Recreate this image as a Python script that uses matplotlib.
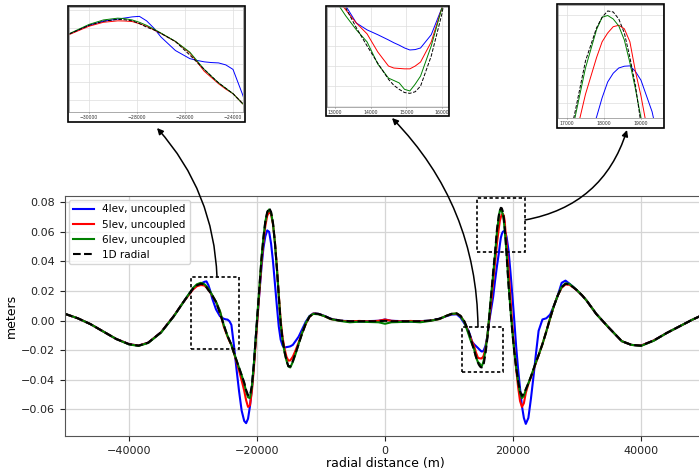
import matplotlib
matplotlib.use('Agg')
import matplotlib.pyplot as plt
from matplotlib.patches import Rectangle, FancyArrowPatch
from matplotlib.ticker import MultipleLocator

# figure size in pixels (dpi 100)
W, H = 699, 471

# radial distance (m), shared by all series
X = [-50000, -48000, -46000, -44000, -42000, -40000, -38500, -37000, -35000, -33000,
     -31500, -30800, -30000, -29400, -28800, -28500, -28200, -27900, -27600, -27300,
     -27000, -26400, -25800, -25500, -25200, -24900, -24600, -24300, -24000, -23600,
     -23200, -22800, -22400, -22000, -21700, -21400, -21100, -20800, -20500, -20200,
     -19900, -19600, -19300, -19000, -18700, -18400, -18100, -17800, -17500, -17200,
     -16900, -16600, -16300, -16000, -15700, -15400, -15100, -14800, -14400, -14000,
     -13500, -13000, -12400, -11800, -11200, -10400, -9500, -8500, -7000, -5500,
     -4000, -2500, -1000, 0, 1000, 2500, 4000, 5500, 7000, 8500,
     9500, 10400, 11200, 11800, 12400, 13000, 13300, 13600, 13900, 14200,
     14500, 14650, 14800, 14950, 15100, 15250, 15400, 15700, 16000, 16300,
     16600, 16900, 17200, 17500, 17800, 17950, 18100, 18250, 18400, 18550,
     18700, 18850, 19000, 19300, 19600, 19900, 20200, 20500, 20800, 21100,
     21400, 21700, 22000, 22400, 22800, 23200, 23600, 24000, 24600, 25200,
     25800, 26400, 27000, 27600, 28200, 28800, 29400, 30000, 30800, 31500,
     33000, 35000, 37000, 38500, 40000, 42000, 44000, 46000, 48000, 50000]

# 4lev, uncoupled
LEV4 = [0.0045, 0.0015, -0.0025, -0.0075, -0.0125, -0.0160, -0.0170, -0.0150, -0.0080, 0.0030,
        0.0125, 0.0168, 0.0215, 0.0238, 0.0250, 0.0256, 0.0262, 0.0265, 0.0240, 0.0200,
        0.0150, 0.0075, 0.0030, 0.0020, 0.0012, 0.0008, 0.0006, -0.0005, -0.0030, -0.0170,
        -0.0330, -0.0480, -0.0610, -0.0680, -0.0695, -0.0665, -0.0580, -0.0460, -0.0310, -0.0120,
        0.0040, 0.0200, 0.0360, 0.0490, 0.0570, 0.0610, 0.0600, 0.0520, 0.0400, 0.0250,
        0.0100, -0.0040, -0.0130, -0.0170, -0.0185, -0.0180, -0.0178, -0.0175, -0.0165, -0.0140,
        -0.0110, -0.0065, -0.0010, 0.0030, 0.0048, 0.0045, 0.0032, 0.0012, -0.0002, -0.0004,
        -0.0008, -0.0004, -0.0002, 0.0007, -0.0002, -0.0004, -0.0008, -0.0004, -0.0002, 0.0012,
        0.0028, 0.0040, 0.0042, 0.0020, -0.0020, -0.0065, -0.0100, -0.0143, -0.0160, -0.0172,
        -0.0185, -0.0192, -0.0198, -0.0205, -0.0210, -0.0209, -0.0205, -0.0172, -0.0105, 0.0000,
        0.0080, 0.0160, 0.0270, 0.0370, 0.0460, 0.0515, 0.0560, 0.0585, 0.0600, 0.0605,
        0.0606, 0.0590, 0.0565, 0.0475, 0.0330, 0.0170, 0.0000, -0.0180, -0.0330, -0.0460,
        -0.0580, -0.0660, -0.0700, -0.0660, -0.0530, -0.0380, -0.0220, -0.0070, 0.0007, 0.0015,
        0.0040, 0.0100, 0.0170, 0.0255, 0.0270, 0.0250, 0.0228, 0.0203, 0.0170, 0.0135,
        0.0045, -0.0050, -0.0140, -0.0165, -0.0170, -0.0135, -0.0085, -0.0040, 0.0005, 0.0045]

# 5lev, uncoupled
LEV5 = [0.0045, 0.0015, -0.0025, -0.0075, -0.0125, -0.0160, -0.0170, -0.0150, -0.0080, 0.0030,
        0.0125, 0.0165, 0.0210, 0.0232, 0.0240, 0.0239, 0.0236, 0.0224, 0.0210, 0.0190,
        0.0170, 0.0125, 0.0062, 0.0012, -0.0040, -0.0075, -0.0110, -0.0140, -0.0165, -0.0220,
        -0.0280, -0.0340, -0.0405, -0.0475, -0.0540, -0.0585, -0.0575, -0.0480, -0.0330, -0.0150,
        0.0040, 0.0220, 0.0390, 0.0530, 0.0640, 0.0710, 0.0735, 0.0720, 0.0650, 0.0530,
        0.0365, 0.0175, 0.0000, -0.0115, -0.0190, -0.0245, -0.0272, -0.0270, -0.0245, -0.0205,
        -0.0150, -0.0090, -0.0025, 0.0025, 0.0047, 0.0044, 0.0030, 0.0010, -0.0002, -0.0006,
        -0.0003, -0.0006, -0.0002, 0.0006, -0.0002, -0.0006, -0.0003, -0.0006, -0.0002, 0.0010,
        0.0030, 0.0044, 0.0047, 0.0030, -0.0008, -0.0075, -0.0110, -0.0143, -0.0170, -0.0215,
        -0.0250, -0.0255, -0.0256, -0.0257, -0.0257, -0.0250, -0.0240, -0.0190, -0.0105, 0.0010,
        0.0130, 0.0260, 0.0390, 0.0525, 0.0630, 0.0675, 0.0700, 0.0718, 0.0722, 0.0712,
        0.0675, 0.0590, 0.0520, 0.0350, 0.0150, -0.0040, -0.0200, -0.0330, -0.0450, -0.0545,
        -0.0585, -0.0560, -0.0490, -0.0430, -0.0385, -0.0335, -0.0285, -0.0235, -0.0160, -0.0075,
        0.0015, 0.0100, 0.0170, 0.0222, 0.0244, 0.0242, 0.0225, 0.0203, 0.0170, 0.0135,
        0.0045, -0.0050, -0.0140, -0.0165, -0.0170, -0.0135, -0.0085, -0.0040, 0.0005, 0.0045]

# 6lev, uncoupled
LEV6 = [0.0045, 0.0015, -0.0025, -0.0075, -0.0125, -0.0162, -0.0172, -0.0152, -0.0082, 0.0028,
        0.0125, 0.0170, 0.0220, 0.0245, 0.0255, 0.0252, 0.0245, 0.0232, 0.0215, 0.0195,
        0.0172, 0.0126, 0.0066, 0.0018, -0.0030, -0.0068, -0.0105, -0.0135, -0.0165, -0.0220,
        -0.0270, -0.0320, -0.0370, -0.0425, -0.0480, -0.0520, -0.0525, -0.0450, -0.0300, -0.0120,
        0.0060, 0.0240, 0.0420, 0.0560, 0.0670, 0.0730, 0.0752, 0.0730, 0.0655, 0.0525,
        0.0355, 0.0165, -0.0020, -0.0135, -0.0215, -0.0270, -0.0310, -0.0318, -0.0280, -0.0230,
        -0.0160, -0.0090, -0.0020, 0.0028, 0.0045, 0.0042, 0.0030, 0.0010, -0.0003, -0.0012,
        -0.0008, -0.0010, -0.0012, -0.0022, -0.0012, -0.0010, -0.0008, -0.0012, -0.0003, 0.0010,
        0.0030, 0.0045, 0.0048, 0.0030, -0.0010, -0.0085, -0.0125, -0.0160, -0.0190, -0.0245,
        -0.0280, -0.0286, -0.0292, -0.0308, -0.0312, -0.0295, -0.0275, -0.0200, -0.0105, 0.0040,
        0.0180, 0.0310, 0.0450, 0.0600, 0.0710, 0.0745, 0.0750, 0.0740, 0.0720, 0.0680,
        0.0615, 0.0540, 0.0457, 0.0250, 0.0080, -0.0075, -0.0210, -0.0320, -0.0415, -0.0490,
        -0.0525, -0.0510, -0.0470, -0.0425, -0.0380, -0.0330, -0.0280, -0.0235, -0.0160, -0.0075,
        0.0015, 0.0100, 0.0170, 0.0227, 0.0252, 0.0248, 0.0228, 0.0205, 0.0170, 0.0135,
        0.0045, -0.0050, -0.0140, -0.0165, -0.0172, -0.0137, -0.0085, -0.0040, 0.0005, 0.0045]

# 1D radial reference
RADIAL = [0.0045, 0.0015, -0.0025, -0.0075, -0.0125, -0.0160, -0.0170, -0.0150, -0.0080, 0.0030,
          0.0125, 0.0168, 0.0215, 0.0238, 0.0248, 0.0246, 0.0240, 0.0225, 0.0205, 0.0190,
          0.0170, 0.0125, 0.0050, 0.0010, -0.0030, -0.0068, -0.0105, -0.0135, -0.0165, -0.0220,
          -0.0270, -0.0320, -0.0370, -0.0420, -0.0470, -0.0505, -0.0510, -0.0440, -0.0300, -0.0120,
          0.0060, 0.0240, 0.0420, 0.0560, 0.0670, 0.0735, 0.0762, 0.0735, 0.0660, 0.0530,
          0.0360, 0.0170, -0.0020, -0.0130, -0.0210, -0.0270, -0.0310, -0.0312, -0.0275, -0.0225,
          -0.0160, -0.0095, -0.0025, 0.0025, 0.0048, 0.0045, 0.0032, 0.0012, 0.0000, -0.0005,
          -0.0005, -0.0005, -0.0005, -0.0002, -0.0005, -0.0005, -0.0005, -0.0005, 0.0000, 0.0012,
          0.0030, 0.0045, 0.0048, 0.0032, -0.0005, -0.0065, -0.0105, -0.0155, -0.0200, -0.0243,
          -0.0283, -0.0298, -0.0308, -0.0316, -0.0318, -0.0314, -0.0300, -0.0225, -0.0120, 0.0030,
          0.0180, 0.0330, 0.0465, 0.0620, 0.0715, 0.0745, 0.0763, 0.0760, 0.0740, 0.0700,
          0.0630, 0.0550, 0.0440, 0.0240, 0.0070, -0.0080, -0.0210, -0.0320, -0.0410, -0.0480,
          -0.0510, -0.0495, -0.0465, -0.0425, -0.0380, -0.0330, -0.0280, -0.0235, -0.0160, -0.0075,
          0.0015, 0.0100, 0.0170, 0.0225, 0.0248, 0.0245, 0.0225, 0.0205, 0.0170, 0.0135,
          0.0045, -0.0050, -0.0140, -0.0165, -0.0170, -0.0135, -0.0085, -0.0040, 0.0005, 0.0045]

SERIES = [('4lev, uncoupled', LEV4, 'b', '-'),
          ('5lev, uncoupled', LEV5, 'r', '-'),
          ('6lev, uncoupled', LEV6, 'g', '-'),
          ('1D radial', RADIAL, 'k', '--')]

# zoom windows: (xmin, xmax, ymin, ymax, ytick step)
ZOOM1 = (-30833, -23583, -0.0267, 0.0317, 0.01)
ZOOM2 = (12775, 16170, -0.0352, -0.0103, 0.005)
ZOOM3 = (16757, 19595, 0.0457, 0.0780, 0.005)

# dashed boxes drawn on the main plot: (x0, x1, y0, y1)
BOX1 = (-30265, -22777, -0.0193, 0.0295)
BOX2 = (11966, 18456, -0.0349, -0.0044)
BOX3 = (14306, 21950, 0.0464, 0.0829)


def px_box(l, t, r, b):
    """pixel box (image coords, y down) -> figure fraction rect"""
    return [l / W, 1 - b / H, (r - l) / W, (b - t) / H]


def px_pt(x, y):
    return (x / W, 1 - y / H)


def draw_inset(fig, inner, outer, zoom, xstep):
    ins = fig.add_axes(px_box(*inner))
    for label, ys, c, ls in SERIES:
        ins.plot(X, ys, color=c, linestyle=ls, linewidth=0.7)
    ins.set_xlim(zoom[0], zoom[1])
    ins.set_ylim(zoom[2], zoom[3])
    ins.xaxis.set_major_locator(MultipleLocator(xstep))
    ins.yaxis.set_major_locator(MultipleLocator(zoom[4]))
    ins.grid(True, color='#dddddd', linewidth=0.5)
    ins.tick_params(axis='x', labelsize=3.3, length=1, width=0.4, pad=1, colors='#333333')
    ins.tick_params(axis='y', labelleft=False, length=0)
    for s in ins.spines.values():
        s.set_color('#888888')
        s.set_linewidth(0.5)
    l, t, r, b = outer
    fig.add_artist(Rectangle(px_pt(l, b), (r - l) / W, (b - t) / H,
                             transform=fig.transFigure, fill=False,
                             edgecolor='black', linewidth=1.2))
    return ins


def main():
    assert all(len(s[1]) == len(X) for s in SERIES)
    fig = plt.figure(figsize=(W / 100, H / 100), dpi=100)
    ax = fig.add_axes(px_box(65, 196, 705, 436))

    for label, ys, c, ls in SERIES:
        ax.plot(X, ys, color=c, linestyle=ls, linewidth=1.5, label=label)

    ax.set_xlim(-50000, 50000)
    ax.set_ylim(-0.0782, 0.0843)
    ax.set_xticks([-40000, -20000, 0, 20000, 40000])
    ax.set_yticks([-0.06, -0.04, -0.02, 0.0, 0.02, 0.04, 0.06, 0.08])
    ax.grid(True, color='#d5d5d5', linewidth=0.9)
    ax.tick_params(labelsize=8, colors='#222222')
    for s in ax.spines.values():
        s.set_color('#555555')
    ax.set_xlabel('radial distance (m)', fontsize=9, labelpad=1)
    ax.set_ylabel('meters', fontsize=9, labelpad=2)
    ax.legend(loc='upper left', fontsize=7.5, borderaxespad=0.4)

    # dashed zoom boxes
    for x0, x1, y0, y1 in (BOX1, BOX2, BOX3):
        ax.add_patch(Rectangle((x0, y0), x1 - x0, y1 - y0, fill=False,
                               edgecolor='black', linewidth=1.2,
                               linestyle=(0, (2, 1.5)), zorder=5))

    # zoomed insets
    draw_inset(fig, (69, 7, 243, 112), (68, 6, 245, 122), ZOOM1, 2000)
    draw_inset(fig, (327, 7, 448, 107), (326, 6, 449, 116), ZOOM2, 1000)
    draw_inset(fig, (558, 5, 663, 118), (557, 4, 664, 128), ZOOM3, 1000)

    # curved arrows from boxes to insets
    for a, b, rad in [((217, 277), (157, 128), 0.18),
                      ((478, 327), (392, 118), 0.2),
                      ((525, 220), (627, 130), 0.3)]:
        fig.add_artist(FancyArrowPatch(px_pt(*a), px_pt(*b), transform=fig.transFigure,
                                       connectionstyle=f'arc3,rad={rad}',
                                       arrowstyle='-|>', mutation_scale=9,
                                       color='black', linewidth=1.1,
                                       shrinkA=0, shrinkB=0))

    fig.savefig('out.png', dpi=100)
    plt.close('all')


if __name__ == "__main__":
    main()
